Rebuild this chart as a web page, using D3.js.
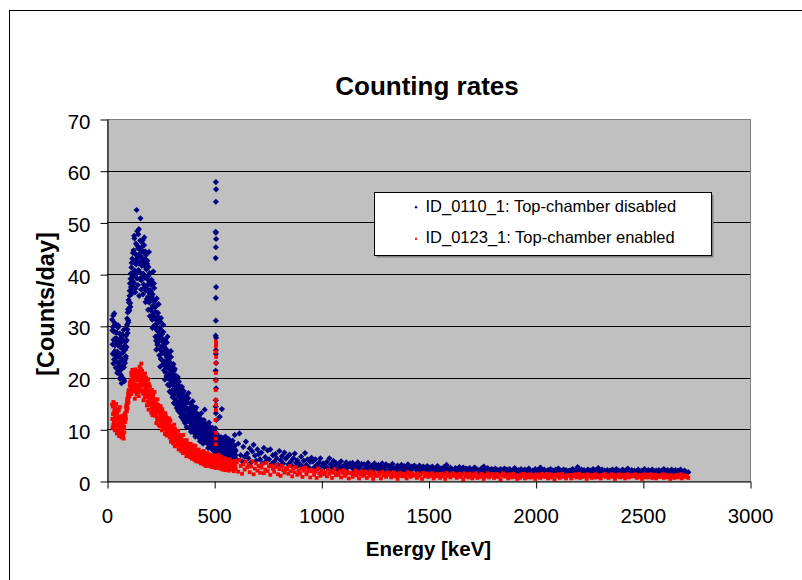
<!DOCTYPE html>
<html><head><meta charset="utf-8">
<script src="https://cdn.jsdelivr.net/npm/d3@7"></script>
<style>body{margin:0;background:#fff}svg{display:block;font-family:"Liberation Sans",Arial,sans-serif}</style>
</head><body><svg id="c" width="802" height="580"></svg>
<script>
// ---- data ----
const chartTitle = "Counting rates";
const xTitle = "Energy [keV]";
const yTitle = "[Counts/day]";
const seriesNames = ["ID_0110_1: Top-chamber disabled", "ID_0123_1: Top-chamber enabled"];
const xTicks = [0, 500, 1000, 1500, 2000, 2500, 3000];
const yTicks = [0, 10, 20, 30, 40, 50, 60, 70];

// energy channels: low region even channels 24..598 keV and odd channels 25..599 keV (2 keV step),
// tail 600..2712 keV every 6 keV
const lowStart = 24, lowStartOdd = 25, lowStep = 2;
const tailStart = 600, tailStep = 6;

const blueLow = [31.2,26.4,29.8,22.7,28.9,32.4,25.1,27.6,30.3,24.2,
23.8,28.7,20.9,26.3,30.1,24.5,22.2,27.4,19.8,25.9,
21.5,26.8,18.9,24.7,28.3,22.4,25.6,19.7,27.1,23.3,
22.8,26.9,24.1,29.5,27.2,31.4,28.6,33.2,30.7,34.5,
32.9,36.8,34.4,39.1,37.5,41.3,36.2,43.0,38.7,40.4,
44.6,38.3,46.9,40.7,36.5,43.8,41.9,52.4,39.2,45.5,
37.9,47.7,42.1,35.8,44.9,40.3,50.8,43.4,38.8,46.2,
45.3,39.6,36.1,44.2,41.8,47.1,37.4,42.9,34.6,43.7,
40.9,35.2,42.6,37.8,33.1,39.7,44.3,36.4,31.9,38.5,
36.7,31.8,38.9,33.5,29.6,35.2,40.5,32.4,37.3,30.1,
33.6,27.9,31.2,25.4,35.3,29.1,26.7,32.5,28.2,30.8,
24.3,29.6,22.1,27.8,31.5,25.2,28.4,23.3,26.9,30.2,
26.1,21.4,24.8,19.6,27.3,22.7,25.5,20.3,23.9,27.9,
18.6,23.4,20.2,24.9,17.3,22.1,19.5,25.1,21.3,16.9,
20.8,16.2,19.4,22.6,15.1,18.3,21.7,17.1,14.8,19.9,
18.2,14.1,17.5,20.1,13.6,16.4,19.2,15.3,13.2,17.8,
16.3,12.4,15.7,18.2,13.1,14.6,11.8,17.4,14.0,15.9,
11.2,14.8,12.6,16.5,10.4,13.9,15.3,12.1,17.0,13.4,
13.7,10.2,12.8,14.9,9.5,11.6,13.2,10.8,15.4,12.3,
9.4,12.6,10.7,13.8,8.6,11.5,14.2,10.1,12.0,9.1,
11.3,8.5,12.7,9.6,10.8,7.7,11.9,9.2,13.1,10.4,
8.1,10.6,7.2,9.9,11.8,8.7,13.8,9.3,7.6,10.2,
9.7,7.3,10.9,8.2,6.4,9.1,11.3,7.8,8.9,6.9,
7.4,9.6,6.2,8.7,10.3,7.1,8.3,5.8,9.2,7.7,
6.3,8.6,5.4,7.9,9.1,6.6,4.9,7.4,8.2,5.9,
7.2,12.4,5.3,6.8,8.5,4.6,13.9,6.1,7.7,5.0,
5.6,7.9,4.3,6.7,8.6,5.2,6.4,3.9,7.3,5.8,
6.8,4.7,8.1,5.5,3.8,6.3,7.6,5.1,6.0,4.4,
5.9,7.8,4.2,6.5,3.6,5.3,8.9,4.9];

const blueLowOdd = [29.1,24.6,32.0,27.3,23.5,30.6,26.2,28.8,21.9,27.0,
27.6,22.9,25.0,29.7,21.2,26.8,24.0,28.5,23.1,20.6,
25.8,20.3,23.6,27.9,21.8,24.9,29.2,22.0,19.3,26.2,
25.4,23.7,28.1,25.9,30.2,29.3,32.6,31.1,35.0,33.3,
35.8,38.2,33.7,40.1,36.9,42.2,39.4,37.6,44.1,40.0,
42.3,47.4,39.8,44.0,37.2,45.9,42.8,40.2,48.3,43.1,
45.0,40.8,48.7,43.9,39.1,46.5,42.4,37.0,44.7,41.6,
43.0,46.6,40.1,38.0,45.6,42.5,39.3,44.4,36.8,41.2,
37.1,42.0,39.0,35.6,41.4,38.2,34.5,40.2,36.9,35.1,
33.0,37.9,35.6,31.2,36.1,33.9,29.8,38.2,34.7,31.6,
29.5,32.7,27.1,33.9,30.4,26.3,31.8,28.9,34.2,27.4,
28.0,25.5,30.8,23.6,26.0,29.1,24.7,27.5,22.6,28.8,
22.5,25.9,23.1,26.6,21.0,24.3,22.0,26.8,20.8,24.6,
22.4,19.8,23.9,21.6,18.4,22.9,20.6,24.0,19.0,21.9,
17.5,20.1,18.9,16.6,21.3,17.9,19.6,15.8,20.4,18.0,
15.4,17.6,19.0,14.8,16.9,18.5,15.1,17.2,14.3,16.0,
14.2,16.8,13.4,15.3,17.0,12.9,15.6,14.4,16.1,13.6,
14.3,12.2,13.8,15.7,11.6,14.0,12.8,16.0,11.9,13.1,
11.4,13.0,14.2,10.6,12.5,11.1,13.9,10.0,12.2,14.4,
12.1,10.3,11.8,9.7,13.2,10.9,12.6,9.3,11.4,13.0,
9.9,11.6,8.9,10.5,12.2,9.4,10.9,8.3,11.1,9.7,
10.0,8.4,9.6,11.2,8.0,9.8,10.7,8.6,9.1,11.0,
8.1,9.9,7.7,8.8,10.1,7.5,9.3,8.4,10.4,7.9,
8.5,7.0,9.0,7.8,6.6,8.9,7.5,9.8,6.9,8.1,
7.6,6.0,8.1,5.6,7.2,8.8,6.4,5.3,7.7,6.7,
6.0,7.4,5.7,8.0,6.4,4.9,7.1,5.9,8.2,6.3,
6.9,5.1,7.5,6.1,4.6,7.0,5.7,8.0,5.3,6.5,
5.3,6.6,4.5,7.2,5.8,6.4,4.2,7.0,5.6,6.1,
6.2,4.8,7.1,5.5,4.4,6.8,5.1,6.0];

const redLow = [14.8,10.3,12.9,15.3,11.4,13.6,9.8,12.2,14.1,10.9,
12.7,9.2,11.8,13.9,10.4,12.3,8.7,11.1,14.3,10.0,
9.6,11.9,8.4,10.8,12.6,9.1,11.3,8.2,10.5,12.1,
11.4,13.2,12.0,14.6,13.5,15.8,14.1,16.9,15.2,17.4,
16.3,18.5,17.1,19.6,16.8,20.4,18.0,21.5,17.7,19.2,
20.8,17.3,19.9,15.9,21.6,18.6,20.2,16.7,19.4,21.1,
18.2,20.9,16.4,19.7,22.1,17.6,20.5,18.9,22.7,19.0,
21.3,17.1,19.5,15.6,18.8,20.6,16.2,19.1,17.9,20.0,
17.8,14.6,18.9,16.1,19.7,13.8,17.2,15.4,18.3,14.9,
16.4,13.2,15.9,17.6,12.7,15.1,16.8,13.9,14.5,17.2,
12.6,15.4,13.8,11.2,14.9,12.1,15.8,13.3,10.9,14.2,
13.4,10.6,12.8,14.5,11.3,12.5,9.8,13.9,11.7,12.1,
10.2,12.7,11.4,9.1,13.1,10.8,11.9,8.8,12.2,10.5,
11.3,9.0,10.6,12.1,8.4,9.9,11.7,7.6,10.2,9.4,
8.1,10.4,7.3,9.6,8.8,10.9,6.7,9.2,8.4,7.9,
9.1,6.8,8.3,7.5,9.7,6.1,8.0,7.2,8.9,6.6,
7.6,5.8,8.4,6.9,7.3,5.4,8.9,6.5,7.1,6.2,
5.6,7.4,6.1,4.8,7.9,6.6,5.3,7.0,6.2,4.9,
6.3,4.6,5.9,7.2,5.1,6.6,4.3,5.5,6.9,5.8,
4.9,6.2,4.1,5.6,6.8,5.0,3.8,5.9,4.5,5.3,
5.5,4.2,6.1,3.7,4.9,5.7,4.4,3.4,5.2,4.6,
3.9,5.3,4.6,3.2,5.8,4.1,3.6,4.9,2.9,4.4,
4.8,3.5,4.2,5.4,2.9,3.9,4.6,3.1,5.1,3.8,
3.4,4.5,2.7,4.1,5.0,3.6,3.0,4.3,3.8,2.6,
4.2,3.1,4.9,2.5,3.7,4.4,2.9,3.5,5.1,3.3,
3.0,4.1,2.4,3.6,4.7,2.8,3.3,3.9,2.2,3.5,
3.8,2.6,3.2,4.4,2.1,3.5,2.9,4.0,3.1,2.4,
2.7,3.6,2.0,3.3,4.2,2.5,3.0,3.8,2.3,3.4,
3.1,2.2,3.7,2.8,1.9,3.4,2.6,3.9];

const redLowOdd = [12.0,14.4,10.8,13.1,15.0,11.7,13.9,10.5,12.6,14.9,
11.0,13.3,9.7,12.0,10.9,13.6,9.4,12.5,10.2,11.6,
10.9,8.8,12.3,9.9,11.1,8.6,10.2,12.7,9.4,11.5,
13.0,12.4,14.3,13.6,15.2,14.8,16.2,15.7,17.6,16.5,
17.4,19.0,18.3,17.0,20.9,19.1,18.8,20.6,19.8,18.4,
18.9,21.2,17.8,20.0,18.4,20.7,17.4,21.0,18.2,20.1,
19.5,17.2,21.3,18.6,20.3,17.9,21.7,19.3,17.5,20.6,
18.5,20.3,16.9,19.9,17.5,18.3,20.8,16.6,19.4,17.2,
16.6,18.4,15.3,17.7,16.3,18.8,14.7,17.0,15.8,16.9,
15.0,16.6,14.1,15.6,13.4,16.2,14.6,15.3,12.9,15.8,
14.1,12.7,15.0,13.5,14.4,11.7,13.2,14.7,12.3,13.8,
11.9,13.5,12.2,10.9,13.1,11.4,12.9,10.7,12.4,13.2,
11.8,10.4,12.1,10.0,11.3,12.5,9.6,11.0,10.3,11.6,
10.1,10.9,9.2,11.0,9.7,10.4,8.9,10.7,9.5,10.0,
9.5,8.3,9.9,7.7,9.0,8.5,10.1,7.9,9.3,8.7,
7.9,8.6,7.1,8.8,7.6,8.1,6.9,8.5,7.4,8.2,
7.2,6.5,7.8,6.2,7.5,6.8,7.0,7.9,6.0,7.4,
6.7,5.9,6.9,5.6,6.4,7.2,5.8,6.5,5.4,6.8,
5.4,6.1,5.0,6.4,5.6,5.3,6.2,4.9,6.0,5.5,
5.6,4.6,5.3,6.0,4.8,5.5,4.4,5.8,5.1,4.7,
4.5,5.1,4.0,5.3,4.7,4.3,5.5,4.9,4.1,5.0,
4.7,4.0,5.0,4.3,3.7,4.8,4.2,5.2,3.9,4.5,
4.0,4.6,3.6,4.4,4.1,3.3,4.7,3.9,4.3,3.6,
4.0,3.2,4.4,3.7,3.5,4.6,3.3,3.9,4.2,3.1,
3.5,4.0,3.2,4.5,3.6,2.8,4.1,3.4,3.9,3.0,
3.7,3.2,4.3,2.9,3.4,3.8,2.6,3.6,4.0,3.1,
3.1,3.6,2.8,3.9,3.3,2.5,3.7,3.0,3.4,2.9,
3.5,2.9,3.2,2.4,3.6,3.1,2.7,3.4,2.8,3.2,
2.8,3.3,2.5,3.0,3.5,2.4,3.2,2.7];

const blueTail = [5.8,4.1,7.2,9.2,5.0,3.8,6.6,4.7,7.6,5.3,
4.4,6.3,3.6,5.7,7.0,4.9,3.9,6.1,5.2,4.2,
5.5,3.4,6.4,4.6,3.9,5.9,4.2,6.1,3.3,5.0,
3.7,5.2,4.4,3.1,5.8,4.0,4.8,3.4,5.5,4.3,
4.6,3.2,5.1,3.8,2.9,4.4,5.3,3.5,4.0,3.0,
3.3,4.7,2.8,3.9,5.4,3.1,4.2,2.6,3.7,4.5,
3.8,2.6,4.2,3.1,2.4,3.6,4.4,2.9,3.4,2.7,
2.9,3.7,2.4,4.4,3.2,2.6,3.9,2.8,3.5,2.3,
3.3,2.5,3.8,2.8,2.2,3.1,3.6,2.6,2.9,3.4,
2.7,3.5,2.2,3.1,2.6,3.6,2.4,2.9,3.3,2.1,
3.2,2.4,2.9,3.5,2.1,2.7,3.0,2.3,3.4,2.6,
2.5,3.1,2.0,2.8,3.4,2.3,2.7,3.2,1.9,2.9,
2.8,2.2,3.3,2.4,1.9,2.7,3.0,2.1,2.6,3.1,
2.2,2.9,1.8,2.6,3.2,2.3,2.0,2.8,2.5,3.0,
2.7,2.0,2.4,3.0,1.8,2.5,2.8,2.1,2.3,2.9,
2.1,2.6,1.9,2.8,2.3,1.7,2.5,2.9,2.0,2.4,
2.4,1.8,2.7,2.1,3.1,2.2,1.7,2.6,2.3,2.0,
2.0,2.5,1.7,2.3,2.7,1.9,2.2,2.6,1.8,2.4,
2.3,1.8,2.5,2.0,1.6,2.4,2.6,1.9,2.2,1.7,
1.9,2.4,2.1,2.8,1.7,2.2,2.5,1.8,2.0,2.3,
2.2,1.7,2.4,1.9,2.1,1.6,2.3,2.0,1.8,2.4,
1.8,2.2,1.6,2.3,2.0,1.7,2.1,2.5,1.9,1.6,
2.1,1.7,2.3,1.5,2.0,2.2,1.8,1.6,2.4,1.9,
1.6,2.0,1.8,2.3,1.5,2.1,1.9,2.6,1.7,2.0,
2.2,1.6,1.9,2.1,1.5,2.3,1.8,2.0,1.6,2.2,
1.9,2.4,1.7,2.0,1.6,2.2,1.8,2.1,1.5,1.9,
2.0,1.6,2.3,1.8,2.1,1.5,2.7,1.9,1.7,2.2,
1.7,2.1,1.5,1.9,2.2,1.6,2.0,1.8,2.3,1.6,
2.1,1.8,2.5,1.6,1.9,2.2,1.5,2.0,1.7,2.1,
1.6,2.0,1.8,2.2,1.5,1.9,2.3,1.7,2.0,1.6,
1.9,2.2,1.6,2.0,1.7,2.4,1.5,1.8,2.1,1.6,
2.0,1.6,1.9,2.2,1.5,1.8,2.0,1.6,2.3,1.7,
1.8,2.1,1.5,1.9,2.2,1.6,1.8,2.0,1.5,2.1,
1.7,2.0,1.6,2.3,1.8,1.5,2.1,1.9,1.6,2.2,
1.9,1.6,2.1,1.7,2.0,1.5,2.2,1.8,1.6,2.0,
1.8,1.5,1.7];

const redTail = [2.4,3.6,1.8,4.1,2.9,1.4,3.2,2.2,3.8,2.6,
3.1,1.7,2.8,3.8,1.3,2.4,3.4,2.0,2.9,1.6,
2.6,3.3,1.5,2.2,3.5,1.9,2.8,1.2,3.0,2.4,
1.8,2.7,3.1,1.3,2.3,1.0,2.9,2.1,1.6,2.5,
2.2,1.4,2.9,1.9,0.9,2.5,1.7,2.7,1.2,2.0,
1.5,2.4,0.8,2.0,2.6,1.3,1.8,2.2,0.7,1.9,
2.1,1.2,1.8,0.6,2.4,1.5,1.0,2.0,1.6,1.3,
1.7,0.9,2.2,1.4,1.9,0.6,1.6,2.3,1.1,1.5,
1.2,1.9,0.7,1.6,2.1,1.0,1.4,1.8,0.5,1.5,
1.6,0.8,1.4,2.0,1.1,1.7,0.5,1.3,1.9,1.0,
1.3,1.8,0.6,1.5,1.0,1.9,1.2,0.4,1.6,1.1,
1.0,1.6,1.3,0.5,1.8,1.1,1.4,0.8,1.7,1.2,
1.5,0.7,1.2,1.7,0.9,1.4,0.4,1.1,1.6,1.0,
0.9,1.4,1.1,0.5,1.7,1.2,0.8,1.5,1.0,1.3,
1.2,0.6,1.5,1.0,1.3,0.4,1.6,0.9,1.1,1.4,
0.8,1.3,1.0,1.5,0.5,1.2,0.9,1.4,1.1,0.6,
1.4,0.9,1.2,0.4,1.6,1.0,1.3,0.7,1.1,1.5,
1.0,1.3,0.6,1.1,1.4,0.8,1.2,0.3,1.5,0.9,
1.2,0.7,1.4,1.0,0.5,1.3,0.9,1.5,0.6,1.1,
0.8,1.4,1.1,0.4,1.2,0.9,1.5,0.7,1.0,1.3,
1.3,0.6,1.0,1.4,0.8,1.2,0.3,1.1,1.5,0.9,
0.9,1.2,0.5,1.3,1.0,0.7,1.4,0.8,1.1,0.4,
1.1,0.6,1.3,0.9,1.4,0.5,1.0,1.2,0.7,1.3,
0.7,1.2,1.0,0.4,1.3,0.8,1.1,0.6,1.4,0.9,
1.2,0.8,1.4,0.5,1.0,1.3,0.7,1.1,0.3,1.2,
0.9,1.3,0.6,1.1,1.4,0.8,1.0,0.5,1.2,1.0,
1.1,0.5,1.2,0.9,1.3,0.7,1.0,1.4,0.6,1.1,
0.8,1.2,1.0,0.4,1.3,0.9,1.1,0.6,1.2,0.7,
1.3,0.7,1.1,0.9,0.5,1.2,1.0,1.4,0.8,1.1,
0.6,1.0,1.3,0.8,1.2,0.4,1.1,0.9,1.3,0.7,
1.1,0.8,1.2,0.5,1.0,1.3,0.7,1.1,0.9,1.2,
0.9,1.3,0.6,1.1,0.8,1.2,0.4,1.0,1.3,0.7,
1.2,0.7,1.0,1.3,0.6,0.9,1.2,0.5,1.1,0.8,
0.8,1.1,1.3,0.6,1.0,1.2,0.7,1.1,0.4,1.0,
1.1,0.6,0.9,1.2,0.7,1.0,1.3,0.5,0.9,1.1,
0.8,1.0,0.6];

// 511 keV annihilation line
const blue511Energy = [508,509,508,507,508,509,508,507,509,508,508,507,509,508,508,509,507,508,509,508,507,508,510,506];
const blue511Value  = [57.8,56.4,54.0,48.2,48.0,46.8,45.2,43.1,37.5,35.4,31.0,28.1,27.7,25.3,24.6,22.8,21.3,19.5,17.9,15.6,14.4,13.1,11.8,10.2];
const red511Energy  = [508,509,508,507,509,508,508,509,507,508,509,508,507,509,508,508];
const red511Value   = [27.0,26.6,26.0,25.0,24.0,22.8,20.9,19.4,17.6,15.7,14.7,13.7,11.8,9.3,8.2,7.1];

const colors = ["#000080", "#ff0000"];

// ---- build ----
function build(low, lowOdd, tail, lineE, lineV) {
  const pts = [];
  low.forEach((v, i) => pts.push({e: lowStart + i * lowStep, v}));
  lowOdd.forEach((v, i) => pts.push({e: lowStartOdd + i * lowStep, v}));
  tail.forEach((v, i) => pts.push({e: tailStart + i * tailStep, v}));
  lineE.forEach((e, i) => pts.push({e, v: lineV[i]}));
  return pts;
}
const bluePts = build(blueLow, blueLowOdd, blueTail, blue511Energy, blue511Value);
const redPts = build(redLow, redLowOdd, redTail, red511Energy, red511Value);

const svg = d3.select("#c");
const W = 802, H = 580;
const x = d3.scaleLinear().domain([0, 3000]).range([107, 750]);
const y = d3.scaleLinear().domain([0, 70]).range([481, 119]);

// outer chart border
svg.append("rect").attr("x", 9.5).attr("y", 10.5).attr("width", W).attr("height", H)
  .attr("fill", "#fff").attr("stroke", "#000").attr("stroke-width", 1);

// plot area
svg.append("rect").attr("x", x(0) + 0.5).attr("y", y(70) + 0.5)
  .attr("width", x(3000) - x(0)).attr("height", y(0) - y(70))
  .attr("fill", "#c0c0c0").attr("stroke", "#808080").attr("stroke-width", 1);

// gridlines
svg.append("g").selectAll("line").data(yTicks.filter(t => t > 0 && t < 70)).join("line")
  .attr("x1", x(0)).attr("x2", x(3000))
  .attr("y1", d => Math.round(y(d)) + 0.5).attr("y2", d => Math.round(y(d)) + 0.5)
  .attr("stroke", "#000").attr("stroke-width", 1);

// points
const diamond = "M0,-3.1L3.1,0L0,3.1L-3.1,0Z";
svg.append("g").selectAll("path").data(bluePts).join("path")
  .attr("d", diamond)
  .attr("transform", d => `translate(${x(d.e)},${y(d.v)})`)
  .attr("fill", colors[0]);
const rs = 3.8;
svg.append("g").selectAll("rect").data(redPts).join("rect")
  .attr("x", d => x(d.e) - rs / 2).attr("y", d => y(d.v) - rs / 2)
  .attr("width", rs).attr("height", rs)
  .attr("fill", colors[1]);

// axes
const fs = 20.5;
const yAxis = svg.append("g").attr("transform", `translate(${x(0) + 0.5},0)`)
  .call(d3.axisLeft(y).tickValues(yTicks).tickSize(7).tickSizeOuter(0).tickFormat(d3.format("d")));
yAxis.select(".domain").attr("stroke", "#000");
yAxis.selectAll(".tick line").attr("stroke", "#000").attr("transform", "translate(0,0.5)");
yAxis.selectAll(".tick text").attr("x", -17).attr("dy", "0.44em")
  .attr("font-size", fs).attr("font-family", '"Liberation Sans", Arial, sans-serif').attr("fill", "#000");

const xAxis = svg.append("g").attr("transform", `translate(0,${y(0) + 0.5})`)
  .call(d3.axisBottom(x).tickValues(xTicks).tickSize(7).tickSizeOuter(0).tickFormat(d3.format("d")));
xAxis.select(".domain").attr("stroke", "#000");
xAxis.selectAll(".tick line").attr("stroke", "#000").attr("transform", "translate(0.5,0)");
xAxis.selectAll(".tick text").attr("y", 41).attr("dy", 0)
  .attr("font-size", fs).attr("font-family", '"Liberation Sans", Arial, sans-serif').attr("fill", "#000");

// titles
svg.append("text").attr("x", 427).attr("y", 95).attr("text-anchor", "middle")
  .attr("font-size", 26).attr("font-weight", "bold").text(chartTitle);
svg.append("text").attr("x", 428.5).attr("y", 556).attr("text-anchor", "middle")
  .attr("font-size", fs).attr("font-weight", "bold").text(xTitle);
svg.append("text").attr("transform", "translate(54,304) rotate(-90)").attr("text-anchor", "middle")
  .attr("font-size", 23.5).attr("font-weight", "bold").text(yTitle);

// legend
const lg = svg.append("g");
lg.append("rect").attr("x", 376.5).attr("y", 194.5).attr("width", 337).attr("height", 63).attr("fill", "#808080");
lg.append("rect").attr("x", 374.5).attr("y", 192.5).attr("width", 337).attr("height", 63)
  .attr("fill", "#fff").attr("stroke", "#000").attr("stroke-width", 1);
const rows = [211.7, 243.3];
lg.append("path").attr("d", "M0,-1.6L1.6,0L0,1.6L-1.6,0Z").attr("transform", `translate(416,${rows[0] - 4.5})`).attr("fill", colors[0]);
lg.append("rect").attr("x", 415).attr("y", rows[1] - 5.5).attr("width", 2).attr("height", 2).attr("fill", colors[1]);
seriesNames.forEach((n, i) => {
  lg.append("text").attr("x", 425.5).attr("y", rows[i]).attr("font-size", 16.5).attr("fill", "#000").text(n);
});
</script></body></html>
